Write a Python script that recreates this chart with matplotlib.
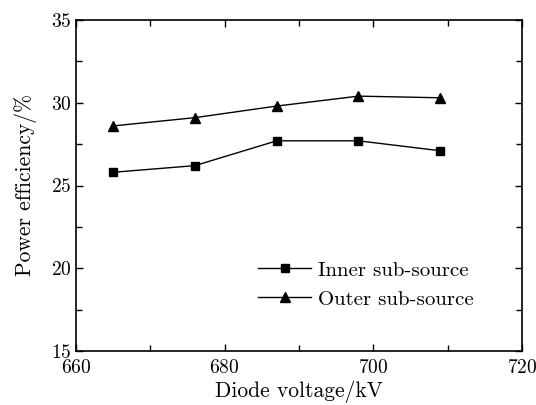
import matplotlib
matplotlib.use("Agg")
import matplotlib.pyplot as plt
from matplotlib.ticker import MultipleLocator

plt.rcParams['font.family'] = ['cmr10', 'DejaVu Serif']
plt.rcParams['axes.formatter.use_mathtext'] = True

voltage = [665, 676, 687, 698, 709]
inner = [25.8, 26.2, 27.7, 27.7, 27.1]
outer = [28.6, 29.1, 29.8, 30.4, 30.3]

fig = plt.figure(figsize=(5.36, 4.05), dpi=100)
ax = fig.add_axes([76/536, 1 - 351/405, (522 - 76)/536, (351 - 20)/405])

ax.plot(voltage, inner, '-s', color='black', lw=1, ms=5.5, label='Inner sub-source')
ax.plot(voltage, outer, '-^', color='black', lw=1, ms=7, label='Outer sub-source')

ax.set_xlim(660, 720)
ax.set_ylim(15, 35)
ax.xaxis.set_major_locator(MultipleLocator(20))
ax.xaxis.set_minor_locator(MultipleLocator(10))
ax.yaxis.set_major_locator(MultipleLocator(5))
ax.yaxis.set_minor_locator(MultipleLocator(2.5))
ax.tick_params(which='both', direction='in', top=True, right=True, labelsize=14, width=1)
ax.tick_params(which='major', length=5, pad=3)
ax.tick_params(which='minor', length=4)
ax.tick_params(axis='x', pad=6)
for s in ax.spines.values():
    s.set_linewidth(1.2)

ax.set_xlabel('Diode voltage/kV', fontsize=15.5, labelpad=2)
ax.set_ylabel('Power efficiency/%', fontsize=15.5, labelpad=10)

ax.legend(loc='upper left', bbox_to_anchor=(0.408, 0.272), frameon=False, fontsize=15,
          borderpad=0, borderaxespad=0, handlelength=2.55, labelspacing=0.5,
          handletextpad=0.35)

fig.savefig('out.png', dpi=100)
